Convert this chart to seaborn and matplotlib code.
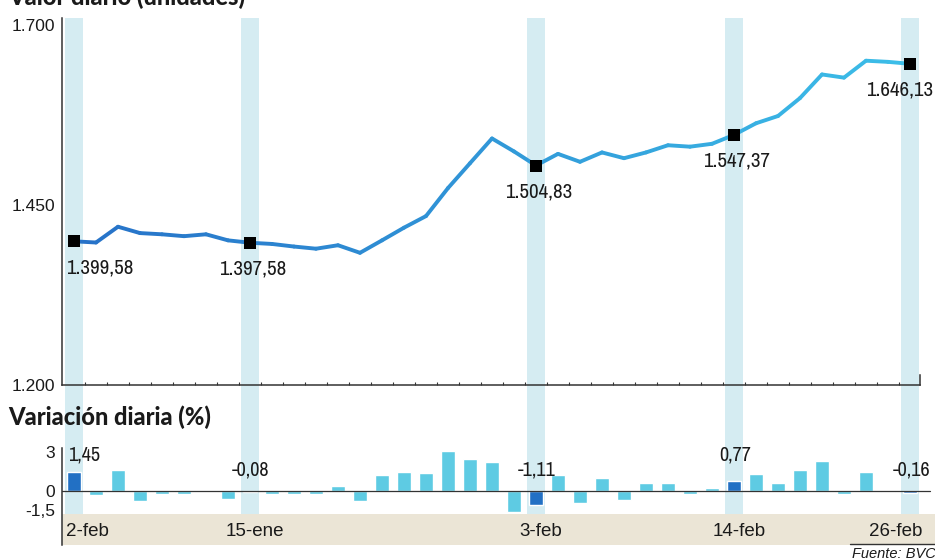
import matplotlib
matplotlib.use("Agg")
import matplotlib.pyplot as plt
from matplotlib import font_manager as fm
from matplotlib.collections import LineCollection
from matplotlib.colors import LinearSegmentedColormap
from matplotlib.lines import Line2D
import numpy as np
import pandas as pd
import seaborn as sns

# -------------------------------------------------------------------
# datos
# -------------------------------------------------------------------
valor = [1399.58, 1397.9, 1419.8, 1411.0, 1409.3, 1406.7, 1409.3, 1400.9, 1397.58,
         1395.9, 1392.3, 1389.3, 1394.1, 1383.6, 1400.9, 1418.5, 1434.6, 1473.5,
         1508.0, 1542.4, 1524.4, 1504.83, 1521.0, 1510.0, 1523.0, 1515.0, 1523.0,
         1533.0, 1531.0, 1535.0, 1547.37, 1563.5, 1573.6, 1598.5, 1631.3, 1626.9,
         1650.4, 1648.8, 1646.13]
variacion = [1.45, -0.3, 1.64, -0.8, -0.2, -0.2, 0.03, -0.63, -0.08, -0.25, -0.25,
             -0.25, 0.36, -0.75, 1.25, 1.45, 1.35, 3.1, 2.5, 2.2, -1.6, -1.11, 1.2,
             -0.95, 0.97, -0.7, 0.6, 0.6, -0.25, 0.25, 0.77, 1.33, 0.63, 1.6, 2.3,
             -0.2, 1.45, -0.1, -0.16]
destacados = [0, 8, 21, 30, 38]
fechas = ["2-feb", "15-ene", "3-feb", "14-feb", "26-feb"]
yticks_valor = [1200, 1450, 1700]
yticks_var = [3, 0, -1.5]

AZUL_CLARO = "#5ecbe3"
AZUL_OSCURO = "#2270c4"
BANDA = "#d5ecf2"
BEIGE = "#ebe5d6"
TXT = "#1a1a1a"
TITULO = ["Lato", "DejaVu Sans"]

sns.set_theme(style="white")
plt.rcParams["font.family"] = ["Liberation Sans", "DejaVu Sans"]


def fuente_estrecha():
    """busca una fuente condensada instalada; si no hay, Liberation Sans"""
    for f in fm.fontManager.ttflist:
        if "Narrow" in f.name or "Condensed" in f.name:
            return dict(family=f.name), 1.0
    for f in fm.fontManager.ttflist:
        if f.stretch in ("condensed", "semi-condensed", 400, 300):
            return dict(family=f.name, fontstretch=f.stretch), 1.0
    return dict(family="Liberation Sans"), 0.86


ESTRECHA, ESCALA = fuente_estrecha()


def es_num(v: float) -> str:
    """formato 1.234,56"""
    return f"{v:,.2f}".replace(",", "X").replace(".", ",").replace("X", ".")


W, H = 935, 559
fig = plt.figure(figsize=(W / 100, H / 100), dpi=100)


def caja(l, t, r, b):
    return [l / W, 1 - b / H, (r - l) / W, (b - t) / H]


X0, PASO = 74, 22  # px del primer dia, px por dia


def lim_x(l, r):
    return ((l - X0) / PASO, (r - X0) / PASO)


idx = np.arange(len(valor))

# -------------------------------------------------------------------
# bandas verticales de fondo
# -------------------------------------------------------------------
ax_bg = fig.add_axes(caja(62, 18, 935, 514), zorder=0)
ax_bg.set_xlim(*lim_x(62, 935))
ax_bg.axis("off")
for i in destacados:
    ax_bg.axvspan(i - 0.42, i + 0.42, color=BANDA, lw=0)

# -------------------------------------------------------------------
# valor diario
# -------------------------------------------------------------------
ax = fig.add_axes(caja(62, 18, 920, 385), zorder=2)
ax.patch.set_alpha(0)
ax.set_xlim(*lim_x(62, 920))
ax.set_ylim(1200, 1200 + 367 / 0.72)

pts = np.column_stack([idx, valor])
segs = np.stack([pts[:-1], pts[1:]], axis=1)
cmap = LinearSegmentedColormap.from_list("linea", ["#2672c8", "#3cbde8"])
lc = LineCollection(segs, colors=cmap(np.linspace(0, 1, len(segs))), linewidths=2.8,
                    capstyle="round", joinstyle="round", zorder=3)
ax.add_collection(lc)

df_m = pd.DataFrame({"x": idx[destacados], "y": np.array(valor)[destacados]})
sns.scatterplot(data=df_m, x="x", y="y", marker="s", s=80, color="black",
                linewidth=0, zorder=5, ax=ax)
for k, i in enumerate(destacados):
    if k == 0:
        dx, ha = -6, "left"
    elif k == len(destacados) - 1:
        dx, ha = 17, "right"
    else:
        dx, ha = 2, "center"
    ax.annotate(es_num(valor[i]), (i, valor[i]), xytext=(dx, -19),
                textcoords="offset points", ha=ha, va="center",
                fontsize=15 * ESCALA, fontweight="bold", color=TXT, zorder=6,
                **ESTRECHA)

ax.set_xlabel("")
ax.set_ylabel("")
ax.set_yticks(yticks_valor)
ax.set_yticklabels([es_num(v)[:-3] for v in yticks_valor])
ax.set_xticks([])
ax.set_xticks(idx[:-1] + 0.5, minor=True)
ax.tick_params(axis="y", direction="in", length=6, width=1, color="#333",
               labelsize=12.5, labelcolor=TXT, pad=5)
ax.tick_params(axis="x", which="minor", direction="in", length=2.5, width=0.8,
               color="#333", bottom=True)
ax.spines["top"].set_visible(False)
for s in ["left", "bottom", "right"]:
    ax.spines[s].set_color("#333")
    ax.spines[s].set_linewidth(1.1)
ax.spines["right"].set_bounds(1200, 1214)

# -------------------------------------------------------------------
# variacion diaria
# -------------------------------------------------------------------
ax2 = fig.add_axes(caja(62, 448, 935, 545), zorder=1)
ax2.patch.set_alpha(0)
df_v = pd.DataFrame({"x": idx, "v": variacion,
                     "tipo": ["d" if i in destacados else "n" for i in idx]})
sns.barplot(data=df_v, x="x", y="v", hue="tipo", dodge=False, width=0.68,
            palette={"d": AZUL_OSCURO, "n": AZUL_CLARO}, legend=False,
            saturation=1, ax=ax2, zorder=2)
ax2.set_xlim(*lim_x(62, 935))
ax2.set_ylim(-54 / 13, 43 / 13)
ax2.axhspan(-54 / 13, -23 / 13, color=BEIGE, lw=0, zorder=0)
ax2.axhline(0, xmax=(930 - 62) / (935 - 62), color="#333", lw=0.9, zorder=3)

for k, i in enumerate(destacados):
    v = variacion[i]
    ty = 2.75 if v > 0 else 1.6
    if k == 0:
        tx, ha = i - 6 / PASO, "left"
    elif k == len(destacados) - 1:
        tx, ha = i + 20 / PASO, "right"
    else:
        tx, ha = i + 1 / PASO, "center"
    ax2.text(tx, ty, es_num(v), ha=ha, va="center", fontsize=14.5 * ESCALA,
             fontweight="bold", color=TXT, zorder=4, **ESTRECHA)

for k, (i, f) in enumerate(zip(destacados, fechas)):
    if k == 0:
        tx, ha = i - 8 / PASO, "left"
    elif k == len(destacados) - 1:
        tx, ha = i + 12 / PASO, "right"
    else:
        tx, ha = i + 5 / PASO, "center"
    ax2.text(tx, -40 / 13, f, ha=ha, va="center", fontsize=13.5, color=TXT)

ax2.set_xlabel("")
ax2.set_ylabel("")
ax2.set_xticks([])
ax2.set_yticks(yticks_var)
ax2.set_yticklabels([es_num(v).rstrip("0").rstrip(",") if v % 1 else str(int(v))
                     for v in yticks_var])
ax2.tick_params(axis="y", length=0, labelsize=12.5, labelcolor=TXT, pad=5)
for s in ["top", "right", "bottom"]:
    ax2.spines[s].set_visible(False)
ax2.spines["left"].set_color("#333")
ax2.spines["left"].set_linewidth(1.1)

# -------------------------------------------------------------------
# titulos y fuente
# -------------------------------------------------------------------
fig.text(8 / W, 1 - 5 / H, "Valor diario (unidades)", fontsize=17,
         fontweight="black", family=TITULO, color=TXT, va="baseline")
fig.text(8 / W, 1 - 425 / H, "Variación diaria (%)", fontsize=17,
         fontweight="black", family=TITULO, color=TXT, va="baseline")
fig.add_artist(Line2D([850 / W, 1], [1 - 544 / H, 1 - 544 / H], color="#333", lw=1))
fig.text(852 / W, 1 - 547 / H, "Fuente: BVC", fontsize=10.5, style="italic",
         color=TXT, va="top")

fig.savefig("out.png", dpi=100)
